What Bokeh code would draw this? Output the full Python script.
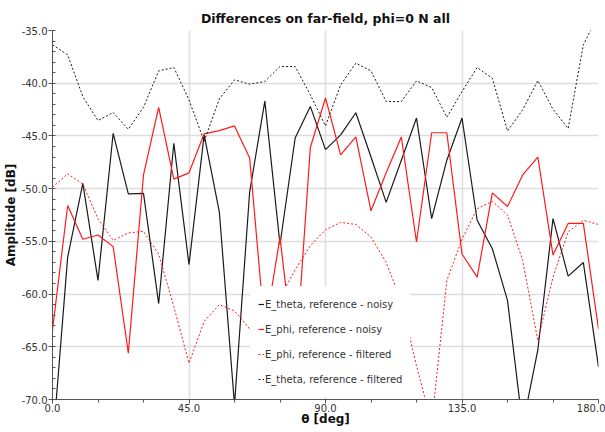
from bokeh.plotting import figure
from bokeh.models import Range1d, FixedTicker, PrintfTickFormatter, Legend, LegendItem
from bokeh.embed import file_html
from bokeh.resources import INLINE

theta = list(range(0, 181, 5))

e_theta_noisy = [-74.5, -56.5, -49.5, -58.7, -44.75, -50.5, -50.45, -60.9, -45.7, -57.2,
                 -44.9, -52.2, -70.5, -50.3, -41.7, -55.3, -45.2, -42.2, -46.3, -44.9,
                 -42.8, -47.0, -51.3, -47.3, -43.3, -52.85, -47.3, -43.3, -53.0, -55.7,
                 -60.6, -72.5, -65.3, -52.85, -58.3, -57.0, -66.9]
e_phi_noisy = [-63.4, -51.6, -54.8, -54.4, -55.5, -65.6, -48.7, -42.3, -49.1, -48.5,
               -44.8, -44.5, -44.05, -47.1, -63.5, -54.6, -67.0, -46.1, -41.4, -46.8,
               -45.1, -52.1, -48.5, -45.1, -55.06, -44.7, -44.7, -56.2, -58.4, -50.4,
               -51.7, -48.7, -47.0, -56.3, -53.3, -53.3, -63.3]
e_phi_filtered = [-49.87, -48.6, -49.56, -52.85, -54.9, -54.2, -54.05, -56.2, -61.2, -66.55,
                  -62.6, -61.0, -61.6, -63.3, -62.3, -60.3, -57.7, -55.4, -53.9, -53.2,
                  -53.4, -54.6, -57.0, -60.7, -66.8, -72.3, -58.7, -54.8, -51.9, -51.2,
                  -52.5, -56.8, -64.4, -58.4, -54.1, -53.0, -53.4]
e_theta_filtered = [-36.36, -37.31, -41.27, -43.54, -42.78, -44.37, -42.28, -38.83, -38.51, -41.58,
                    -45.5, -41.49, -39.68, -40.09, -39.84, -38.42, -38.42, -41.1, -44.05, -40.16,
                    -38.1, -38.83, -41.74, -41.74, -39.78, -40.41, -43.23, -40.79, -38.51, -39.53,
                    -44.53, -42.53, -39.75, -42.47, -44.3, -36.36, -33.5]

x_ticks = [0, 45, 90, 135, 180]
y_ticks = [-70, -65, -60, -55, -50, -45, -40, -35]

title_text = "Differences on far-field, phi=0 N all"
x_label = "\u03b8 [deg]"
y_label = "Amplitude [dB]"
names = ["E_theta, reference - noisy", "E_phi, reference - noisy",
         "E_phi, reference - filtered", "E_theta, reference - filtered"]

FONT = "DejaVu Sans"

p = figure(width=605, height=432, output_backend="svg", toolbar_location=None,
           x_range=Range1d(0, 180), y_range=Range1d(-70, -35),
           min_border_left=52, min_border_right=7, min_border_top=30, min_border_bottom=33,
           title=title_text)
p.outline_line_color = None
p.background_fill_color = "white"
p.border_fill_color = "white"

p.title.align = "center"
p.title.text_font = FONT
p.title.text_font_size = "12.5px"
p.title.text_font_style = "bold"
p.title.text_color = "#111111"
p.title.standoff = 9
p.title.offset = 8

for ax in (p.xaxis[0], p.yaxis[0]):
    ax.axis_line_color = "#555555"
    ax.major_tick_line_color = "#555555"
    ax.minor_tick_line_color = "#555555"
    ax.major_label_text_font = FONT
    ax.major_label_text_font_size = "10px"
    ax.major_label_text_color = "#333333"
    ax.axis_label_text_font = FONT
    ax.axis_label_text_font_size = "12px"
    ax.axis_label_text_font_style = "bold"
    ax.axis_label_text_color = "#111111"
    ax.formatter = PrintfTickFormatter(format="%.1f")

p.xaxis.ticker = FixedTicker(ticks=x_ticks, minor_ticks=list(range(0, 181, 15)))
p.yaxis.ticker = FixedTicker(ticks=y_ticks, minor_ticks=list(range(-70, -34, 1)))
p.xaxis.axis_label = x_label
p.yaxis.axis_label = y_label
p.xaxis.major_tick_out = 4
p.xaxis.major_tick_in = 0
p.xaxis.minor_tick_out = 3
p.xaxis.minor_tick_in = 0
p.xaxis.major_label_standoff = 0
p.xaxis.axis_label_standoff = -3
p.yaxis.major_tick_out = 4
p.yaxis.major_tick_in = 0
p.yaxis.minor_tick_out = 0
p.yaxis.minor_tick_in = 3
p.yaxis.major_label_standoff = 1
p.yaxis.axis_label_standoff = 1

p.grid.grid_line_color = "#dddddd"
p.grid.grid_line_width = 1.5

r1 = p.line(theta, e_theta_noisy, line_color="#1a1a1a", line_width=1.2)
r2 = p.line(theta, e_phi_noisy, line_color="#ff1a1a", line_width=1.2)
r3 = p.line(theta, e_phi_filtered, line_color="#ff1a1a", line_width=1, line_dash="2 2")
r4 = p.line(theta, e_theta_filtered, line_color="#1a1a1a", line_width=1, line_dash="2 2")

legend = Legend(items=[LegendItem(label=names[0], renderers=[r1]),
                       LegendItem(label=names[1], renderers=[r2]),
                       LegendItem(label=names[2], renderers=[r3]),
                       LegendItem(label=names[3], renderers=[r4])],
                location=(198, 2))
legend.label_text_font = FONT
legend.label_text_font_size = "10px"
legend.label_text_color = "#333333"
legend.glyph_width = 6
legend.glyph_height = 20
legend.label_height = 20
legend.label_standoff = 1
legend.spacing = 5
legend.padding = 8
legend.margin = 0
legend.border_line_alpha = 0
legend.background_fill_color = "white"
legend.background_fill_alpha = 1
p.add_layout(legend)

open("out.html", "w").write(file_html(p, INLINE))
